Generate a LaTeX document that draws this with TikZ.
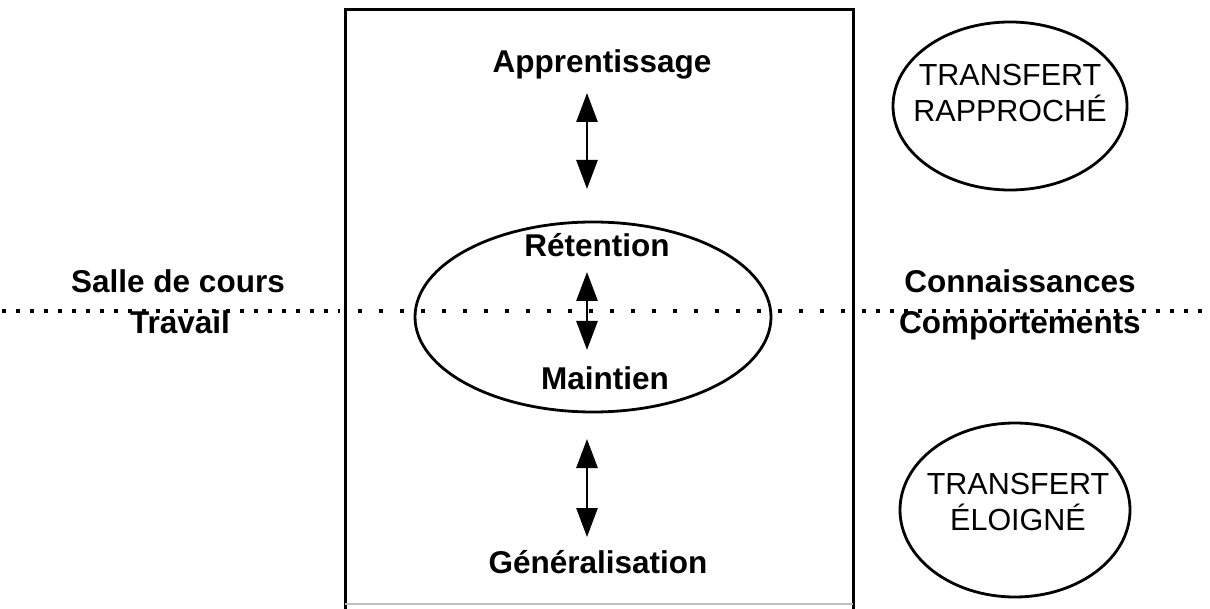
\documentclass[tikz,border=0pt]{standalone}
\usepackage{fontspec}
\setmainfont{Liberation Sans}
\usetikzlibrary{arrows.meta}

\tikzset{
  label/.style={font=\fontsize{31.5}{35}\selectfont\bfseries, inner sep=0pt, anchor=base},
  transfer/.style={font=\fontsize{30.5}{36}\selectfont, inner sep=0pt, anchor=base, align=center},
  link/.style={line width=2.8pt, {Triangle[length=29pt,width=21pt]}-{Triangle[length=29pt,width=21pt]}},
  frame/.style={line width=3pt},
  oval/.style={line width=2.8pt},
  outerdots/.style={line width=3.5pt, dash pattern=on 3.5pt off 10.5pt},
  innerdots/.style={line width=3.5pt, dash pattern=on 3.5pt off 17.5pt}
}

\begin{document}
\begin{tikzpicture}[x=1pt, y=-1pt]
\useasboundingbox (0,0) rectangle (1210,609);

% central frame
\draw[frame] (345,609) -- (345,10) -- (853,10) -- (853,609);
\draw[line width=1.5pt, black!25] (345,604) -- (853,604);

% classroom / workplace boundary
\coordinate (l0) at (2,311);
\coordinate (l1) at (340,311);
\coordinate (m0) at (358,311);
\coordinate (m1) at (850,311);
\coordinate (r0) at (862,311);
\coordinate (r1) at (1210,311);
\draw[outerdots] (l0) -- (l1);
\draw[innerdots] (m0) -- (m1);
\draw[outerdots] (r0) -- (r1);

% retention / maintenance ellipse
\draw[oval] (593,317) ellipse [x radius=178pt, y radius=95pt];

% stage labels
\node[label] (appr) at (602,73) {Apprentissage};
\node[label] (ret)  at (597,257) {Rétention};
\node[label] (main) at (605,390) {Maintien};
\node[label] (gen)  at (598,573) {Généralisation};

% side labels
\node[label] (salle) at (178,293) {Salle de cours};
\node[label] (trav)  at (180,334) {Travail};
\node[label] (conn)  at (1020,293) {Connaissances};
\node[label] (comp)  at (1020,334) {Comportements};

% double arrows between stages
\coordinate (a1) at (587,93);
\coordinate (b1) at (587,189);
\coordinate (a2) at (587,272);
\coordinate (b2) at (587,350);
\coordinate (a3) at (587,439);
\coordinate (b3) at (587,537);
\draw[link] (a1) -- (b1);
\draw[link] (a2) -- (b2);
\draw[link] (a3) -- (b3);

% transfer ovals (node base sits on the last line)
\draw[oval] (1010,106) ellipse [x radius=117pt, y radius=84pt];
\node[transfer] (near) at (1010,122) {TRANSFERT\\RAPPROCHÉ};
\draw[oval] (1015,510) ellipse [x radius=115pt, y radius=87pt];
\node[transfer] (far) at (1018,530) {TRANSFERT\\ÉLOIGNÉ};
\end{tikzpicture}
\end{document}
